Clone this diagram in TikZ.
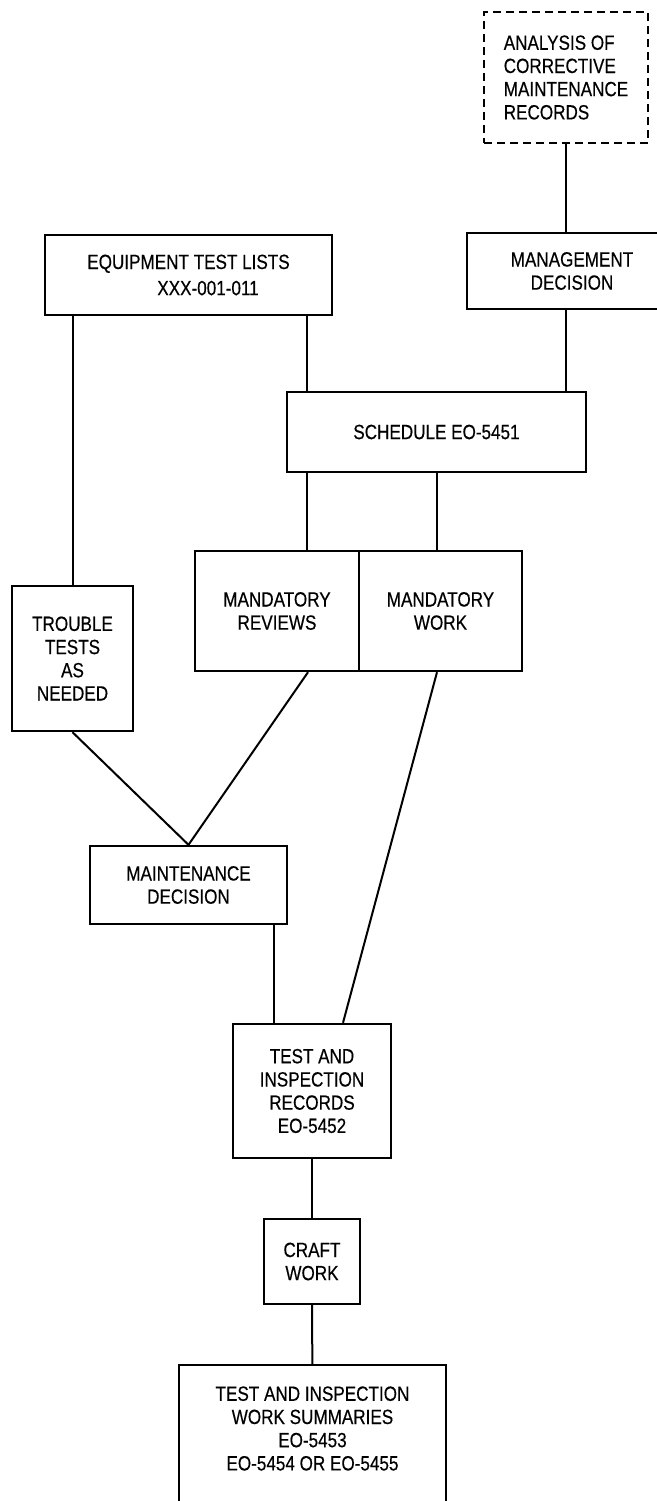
\documentclass[tikz,border=0pt]{standalone}
\usepackage{fontspec}
\setmainfont{Liberation Sans}[FakeStretch=0.83,FakeBold=0.4]
\usepackage{tikz}

\begin{document}
\begin{tikzpicture}[x=0.5pt,y=-0.5pt,
  blk/.style={draw,line width=1.2pt,inner sep=0pt,align=center,
    font=\fontsize{10.3}{11.6}\selectfont},
  edge/.style={line width=1pt}]
\useasboundingbox (0,0) rectangle (657,1501);

\node[blk,dash pattern=on 4pt off 2.5pt,align=left,minimum width=82pt,minimum height=65.5pt] (ana) at (566,77.5)
  {ANALYSIS OF\\CORRECTIVE\\MAINTENANCE\\RECORDS};
\node[blk,minimum width=105pt,minimum height=38pt] (mgmt) at (572,271) {MANAGEMENT\\DECISION};
\node[blk,align=left,minimum width=143.5pt,minimum height=40pt] (eq) at (188.5,275)
  {EQUIPMENT TEST LISTS\\[1.5pt]\hspace*{35pt}XXX-001-011};
\node[blk,minimum width=149.5pt,minimum height=40pt] (sched) at (436.5,432) {SCHEDULE EO-5451};
\node[blk,minimum width=82pt,minimum height=60pt] (rev) at (277,611) {MANDATORY\\REVIEWS};
\node[blk,minimum width=81.5pt,minimum height=60pt] (work) at (440.5,611) {MANDATORY\\WORK};
\node[blk,minimum width=60.5pt,minimum height=72.5pt] (trbl) at (72.5,658.5) {TROUBLE\\TESTS\\AS\\NEEDED};
\node[blk,minimum width=98.5pt,minimum height=39pt] (mdec) at (188.5,885) {MAINTENANCE\\DECISION};
\node[blk,minimum width=79pt,minimum height=67pt] (rec) at (312,1091) {TEST AND\\INSPECTION\\RECORDS\\EO-5452};
\node[blk,minimum width=48pt,minimum height=42.5pt] (craft) at (312,1261.5) {CRAFT\\WORK};
\node[blk,draw=none,minimum width=132.5pt,minimum height=62.5pt] (summ) at (312.5,1428.5)
  {TEST AND INSPECTION\\WORK SUMMARIES\\EO-5453\\EO-5454 OR EO-5455};
\draw[line width=1.2pt] ([yshift=-10pt]summ.south west) -- (summ.north west) -- (summ.north east) -- ([yshift=-10pt]summ.south east);

\draw[edge] (ana.south) -- (ana.south |- mgmt.north);
\draw[edge] (ana.south |- mgmt.south) -- (ana.south |- sched.north);
\draw[edge] (307,0 |- eq.south) -- (307,0 |- sched.north);
\draw[edge] (trbl.north |- eq.south) -- (trbl.north);
\draw[edge] (307,0 |- sched.south) -- (307,0 |- rev.north);
\draw[edge] (sched.south) -- (sched.south |- work.north);
\draw[edge] (trbl.south) -- (mdec.north);
\draw[edge] (308,0 |- rev.south) -- (mdec.north);
\draw[edge] (437,0 |- work.south) -- (343,0 |- rec.north);
\draw[edge] (274,0 |- mdec.south) -- (274,0 |- rec.north);
\draw[edge] (node cs:name=rec) -- (node cs:name=craft);
\draw[edge] (node cs:name=craft) -- (node cs:name=summ);
\end{tikzpicture}
\end{document}
